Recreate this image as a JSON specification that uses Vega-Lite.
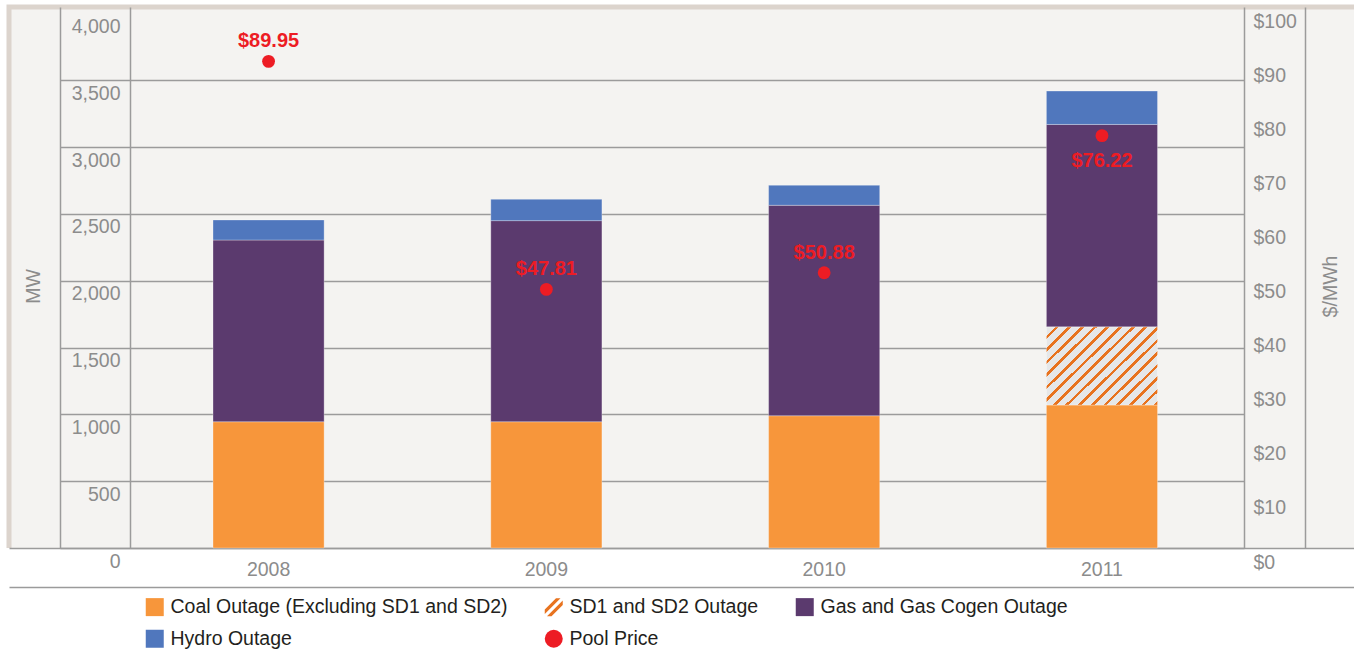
{
  "$schema": "https://vega.github.io/schema/vega-lite/v6.json",
  "width": 1345,
  "height": 541,
  "autosize": {"type": "none"},
  "padding": {"left": 9, "top": 7, "right": 0, "bottom": 104},
  "background": "#ffffff",
  "config": {
    "font": "Liberation Sans",
    "view": {"fill": "#f4f3f1", "stroke": "#dcd4cd", "strokeWidth": 5, "strokeDash": [1345, 1886, 545, 1]},
    "axis": {"grid": false, "labelFont": "Liberation Sans", "titleFont": "Liberation Sans", "domainColor": "#9b9b9b", "domainWidth": 1.5}
  },
  "datasets": {
    "outages": [
      {"year": "2008", "type": "Coal Outage (Excluding SD1 and SD2)", "mw": 945},
      {"year": "2008", "type": "Gas and Gas Cogen Outage", "mw": 1360},
      {"year": "2008", "type": "Hydro Outage", "mw": 150},
      {"year": "2009", "type": "Coal Outage (Excluding SD1 and SD2)", "mw": 945},
      {"year": "2009", "type": "Gas and Gas Cogen Outage", "mw": 1505},
      {"year": "2009", "type": "Hydro Outage", "mw": 160},
      {"year": "2010", "type": "Coal Outage (Excluding SD1 and SD2)", "mw": 990},
      {"year": "2010", "type": "Gas and Gas Cogen Outage", "mw": 1575},
      {"year": "2010", "type": "Hydro Outage", "mw": 150},
      {"year": "2011", "type": "Coal Outage (Excluding SD1 and SD2)", "mw": 1070},
      {"year": "2011", "type": "SD1 and SD2 Outage", "mw": 585},
      {"year": "2011", "type": "Gas and Gas Cogen Outage", "mw": 1515},
      {"year": "2011", "type": "Hydro Outage", "mw": 250}
    ],
    "prices": [
      {"year": "2008", "price": 89.95},
      {"year": "2009", "price": 47.81},
      {"year": "2010", "price": 50.88},
      {"year": "2011", "price": 76.22}
    ]
  },
  "layer": [
    {
      "data": {"name": "outages"},
      "transform": [
        {"calculate": "indexof(['Coal Outage (Excluding SD1 and SD2)', 'SD1 and SD2 Outage', 'Gas and Gas Cogen Outage', 'Hydro Outage'], datum.type)", "as": "stack_rank"}
      ],
      "mark": {"type": "bar", "stroke": "#ffffff", "strokeWidth": 0.6, "strokeOpacity": 0.5},
      "encoding": {
        "x": {
          "field": "year", "type": "nominal",
          "scale": {"paddingInner": 0.6, "paddingOuter": 0.7208, "align": 0.5094},
          "axis": {"orient": "bottom", "title": null, "ticks": false, "labelAngle": 0, "labelFontSize": 19.5, "labelColor": "#8c8c8c", "labelPadding": 12, "labelBaseline": "top", "domainColor": "#9b9b9b", "domainWidth": 1.5}
        },
        "y": {
          "field": "mw", "type": "quantitative", "stack": "zero",
          "scale": {"domain": [0, 4049], "nice": false},
          "axis": {
            "orient": "left", "offset": -51, "zindex": 0,
            "values": [0, 500, 1000, 1500, 2000, 2500, 3000, 3500, 4000], "format": ",.0f",
            "domainColor": "#9b9b9b", "domainWidth": 1.5,
            "tickColor": "#9b9b9b", "tickWidth": 1.4, "tickSize": -1184,
            "tickOpacity": {"condition": {"test": "datum.value >= 4000", "value": 0}, "value": 1},
            "labelAlign": "right", "labelBaseline": "top", "labelPadding": 1124, "labelOffset": 4,
            "labelFontSize": 19.5, "labelColor": "#8c8c8c",
            "title": "MW", "titleX": -27, "titleY": 279, "titleAngle": 270, "titleAlign": "center", "titleBaseline": "middle",
            "titleFontSize": 19.5, "titleFontWeight": "normal", "titleColor": "#8c8c8c"
          }
        },
        "order": {"field": "stack_rank", "type": "quantitative", "sort": "ascending"},
        "color": {
          "condition": {
            "test": "datum.type === 'SD1 and SD2 Outage'",
            "value": {
              "gradient": "linear", "x1": 0, "y1": 0, "x2": 1.136, "y2": 0.809,
              "stops": [
                {"offset": 0, "color": "#e6e7e8"}, {"offset": 0.0467, "color": "#e6e7e8"}, {"offset": 0.0467, "color": "#e8731f"}, {"offset": 0.0667, "color": "#e8731f"},
                {"offset": 0.0667, "color": "#e6e7e8"}, {"offset": 0.1133, "color": "#e6e7e8"}, {"offset": 0.1133, "color": "#e8731f"}, {"offset": 0.1333, "color": "#e8731f"},
                {"offset": 0.1333, "color": "#e6e7e8"}, {"offset": 0.18, "color": "#e6e7e8"}, {"offset": 0.18, "color": "#e8731f"}, {"offset": 0.2, "color": "#e8731f"},
                {"offset": 0.2, "color": "#e6e7e8"}, {"offset": 0.2467, "color": "#e6e7e8"}, {"offset": 0.2467, "color": "#e8731f"}, {"offset": 0.2667, "color": "#e8731f"},
                {"offset": 0.2667, "color": "#e6e7e8"}, {"offset": 0.3133, "color": "#e6e7e8"}, {"offset": 0.3133, "color": "#e8731f"}, {"offset": 0.3333, "color": "#e8731f"},
                {"offset": 0.3333, "color": "#e6e7e8"}, {"offset": 0.38, "color": "#e6e7e8"}, {"offset": 0.38, "color": "#e8731f"}, {"offset": 0.4, "color": "#e8731f"},
                {"offset": 0.4, "color": "#e6e7e8"}, {"offset": 0.4467, "color": "#e6e7e8"}, {"offset": 0.4467, "color": "#e8731f"}, {"offset": 0.4667, "color": "#e8731f"},
                {"offset": 0.4667, "color": "#e6e7e8"}, {"offset": 0.5133, "color": "#e6e7e8"}, {"offset": 0.5133, "color": "#e8731f"}, {"offset": 0.5333, "color": "#e8731f"},
                {"offset": 0.5333, "color": "#e6e7e8"}, {"offset": 0.58, "color": "#e6e7e8"}, {"offset": 0.58, "color": "#e8731f"}, {"offset": 0.6, "color": "#e8731f"},
                {"offset": 0.6, "color": "#e6e7e8"}, {"offset": 0.6467, "color": "#e6e7e8"}, {"offset": 0.6467, "color": "#e8731f"}, {"offset": 0.6667, "color": "#e8731f"},
                {"offset": 0.6667, "color": "#e6e7e8"}, {"offset": 0.7133, "color": "#e6e7e8"}, {"offset": 0.7133, "color": "#e8731f"}, {"offset": 0.7333, "color": "#e8731f"},
                {"offset": 0.7333, "color": "#e6e7e8"}, {"offset": 0.78, "color": "#e6e7e8"}, {"offset": 0.78, "color": "#e8731f"}, {"offset": 0.8, "color": "#e8731f"},
                {"offset": 0.8, "color": "#e6e7e8"}, {"offset": 0.8467, "color": "#e6e7e8"}, {"offset": 0.8467, "color": "#e8731f"}, {"offset": 0.8667, "color": "#e8731f"},
                {"offset": 0.8667, "color": "#e6e7e8"}, {"offset": 0.9133, "color": "#e6e7e8"}, {"offset": 0.9133, "color": "#e8731f"}, {"offset": 0.9333, "color": "#e8731f"},
                {"offset": 0.9333, "color": "#e6e7e8"}, {"offset": 0.98, "color": "#e6e7e8"}, {"offset": 0.98, "color": "#e8731f"}, {"offset": 1, "color": "#e8731f"}
              ]
            }
          },
          "field": "type", "type": "nominal",
          "scale": {
            "domain": ["Coal Outage (Excluding SD1 and SD2)", "SD1 and SD2 Outage", "Gas and Gas Cogen Outage", "Hydro Outage", "Pool Price"],
            "range": ["#f7963b", "#e8731f", "#5b3a6e", "#5077bd", "#ed1c24"]
          },
          "legend": {
            "orient": "none", "legendX": 136, "legendY": 590, "columns": 3, "direction": "horizontal", "title": null,
            "symbolType": {"expr": "datum.value === 'Pool Price' ? 'circle' : datum.value === 'SD1 and SD2 Outage' ? 'M-1,0.25L0.25,-1L0.75,-1L-1,0.75ZM-0.75,1L1,-0.75L1,-0.25L-0.25,1Z' : 'square'"},
            "symbolSize": 324, "symbolStrokeWidth": 0, "symbolOpacity": 1,
            "labelFont": "Liberation Sans", "labelFontSize": 19.5, "labelColor": "#231f20", "labelOffset": 6, "labelLimit": 500,
            "columnPadding": 36, "rowPadding": 11, "padding": 0
          }
        }
      }
    },
    {
      "data": {"name": "prices"},
      "mark": {"type": "point", "filled": true, "size": 165, "opacity": 1},
      "encoding": {
        "x": {"field": "year", "type": "nominal", "axis": {"orient": "bottom", "offset": 39, "labels": false, "ticks": false, "title": null, "domainColor": "#9b9b9b", "domainWidth": 1.5}},
        "y": {
          "field": "price", "type": "quantitative",
          "scale": {"domain": [0, 100], "nice": false},
          "axis": {
            "orient": "right", "offset": -49,
            "values": [0, 10, 20, 30, 40, 50, 60, 70, 80, 90, 100], "format": "$,.0f",
            "ticks": false, "domainColor": "#9b9b9b", "domainWidth": 1.5,
            "labelAlign": "left", "labelBaseline": "top", "labelPadding": -52, "labelOffset": 5,
            "labelFontSize": 19.5, "labelColor": "#8c8c8c",
            "title": "$/MWh", "titleX": 25, "titleY": 279, "titleAngle": 270, "titleAlign": "center", "titleBaseline": "middle",
            "titleFontSize": 19.5, "titleFontWeight": "normal", "titleColor": "#8c8c8c"
          }
        },
        "color": {"datum": "Pool Price", "type": "nominal"}
      }
    },
    {
      "data": {"name": "prices"},
      "transform": [{"filter": "datum.year !== '2011'"}],
      "mark": {"type": "text", "dy": -20, "fontSize": 20, "fontWeight": "bold", "font": "Liberation Sans", "color": "#ed1c24"},
      "encoding": {
        "x": {"field": "year", "type": "nominal", "axis": null},
        "y": {
          "field": "price", "type": "quantitative",
          "scale": {"domain": [0, 100], "nice": false},
          "axis": {"orient": "left", "offset": -121, "labels": false, "ticks": false, "title": null, "domainColor": "#9b9b9b", "domainWidth": 1.5}
        },
        "text": {"field": "price", "type": "quantitative", "format": "$.2f"}
      }
    },
    {
      "data": {"name": "prices"},
      "transform": [{"filter": "datum.year === '2011'"}],
      "mark": {"type": "text", "dy": 25, "fontSize": 20, "fontWeight": "bold", "font": "Liberation Sans", "color": "#ed1c24"},
      "encoding": {
        "x": {"field": "year", "type": "nominal", "axis": null},
        "y": {
          "field": "price", "type": "quantitative",
          "scale": {"domain": [0, 100], "nice": false},
          "axis": {"orient": "right", "offset": -110, "labels": false, "ticks": false, "title": null, "domainColor": "#9b9b9b", "domainWidth": 1.5}
        },
        "text": {"field": "price", "type": "quantitative", "format": "$.2f"}
      }
    }
  ],
  "resolve": {
    "scale": {"y": "independent"},
    "axis": {"x": "independent", "y": "independent"}
  }
}
